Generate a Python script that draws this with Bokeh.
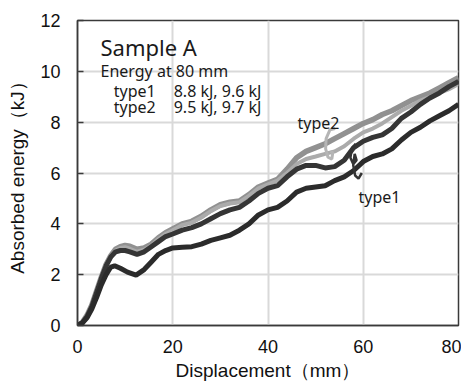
from bokeh.plotting import figure
from bokeh.models import Label, FixedTicker
from bokeh.embed import file_html
from bokeh.resources import INLINE

# ---- data ----
x_t1a = [0, 1, 2, 3, 4, 5, 6, 7, 7.8, 9, 10.5, 12.3, 14, 15.5, 17, 18.5, 20, 22, 24, 26, 28, 30, 32, 34, 36, 38,
         40, 42, 44, 46, 48, 50, 52, 54, 56, 58, 60, 62, 64, 66, 68, 70, 72, 74, 76, 78, 80]
y_t1a = [0, 0.1, 0.3, 0.65, 1.1, 1.6, 2.0, 2.3, 2.35, 2.25, 2.1, 1.98, 2.2, 2.5, 2.8, 2.95, 3.05, 3.08, 3.1, 3.2,
         3.35, 3.45, 3.55, 3.75, 4.0, 4.35, 4.55, 4.65, 4.9, 5.25, 5.4, 5.45, 5.5, 5.7, 5.85, 6.1, 6.45, 6.65, 6.75,
         6.95, 7.3, 7.6, 7.8, 8.05, 8.25, 8.45, 8.7]

x_std = [0, 1, 2, 3, 4, 5, 6, 7, 8, 9, 10, 11, 12.5, 14, 15.5, 17, 18.5, 20, 22, 24, 26, 28, 30, 32, 34, 36, 38,
         40, 42, 44, 46, 48, 50, 52, 54, 56, 58, 60, 62, 64, 66, 68, 70, 72, 74, 76, 78, 80]
y_t1b = [0, 0.1, 0.35, 0.75, 1.3, 1.85, 2.35, 2.7, 2.9, 2.95, 2.95, 2.9, 2.8, 2.9, 3.1, 3.3, 3.5, 3.6, 3.75, 3.85,
         4.0, 4.2, 4.4, 4.55, 4.65, 4.9, 5.2, 5.4, 5.5, 5.85, 6.15, 6.3, 6.3, 6.2, 6.25, 6.5, 7.0, 7.25, 7.4, 7.5,
         7.75, 8.15, 8.4, 8.7, 8.95, 9.15, 9.4, 9.6]
y_t2a = [0, 0.12, 0.4, 0.8, 1.35, 1.9, 2.4, 2.72, 2.95, 3.05, 3.08, 3.02, 2.9, 2.98, 3.15, 3.4, 3.6, 3.75, 3.95,
         4.05, 4.25, 4.5, 4.7, 4.8, 4.85, 5.1, 5.4, 5.55, 5.7, 6.0, 6.35, 6.55, 6.65, 6.75, 6.85, 7.05, 7.35, 7.6,
         7.75, 7.95, 8.2, 8.45, 8.65, 8.85, 9.0, 9.15, 9.3, 9.5]
y_t2b = [0, 0.12, 0.4, 0.8, 1.35, 1.9, 2.4, 2.75, 3.0, 3.1, 3.15, 3.12, 3.0, 3.05, 3.2, 3.45, 3.65, 3.8, 4.0, 4.1,
         4.3, 4.55, 4.75, 4.85, 4.9, 5.15, 5.45, 5.6, 5.75, 6.15, 6.6, 6.85, 7.0, 7.15, 7.35, 7.55, 7.75, 7.95,
         8.1, 8.3, 8.45, 8.65, 8.85, 9.0, 9.15, 9.35, 9.55, 9.75]

# leader hooks next to the "type2" / "type1" labels
hook2_x = [54.1, 53.0, 52.2, 52.1, 52.6, 53.4, 53.6, 53.1]
hook2_y = [7.75, 7.7, 7.35, 6.95, 6.62, 6.55, 6.8, 6.85]
hook1_x = [58.4, 57.6, 57.3, 57.9, 58.6, 58.2, 57.9, 58.3, 59.0, 59.7]
hook1_y = [7.15, 6.95, 6.6, 6.35, 6.5, 6.75, 6.3, 5.9, 5.78, 6.0]

x_ticks = [0, 20, 40, 60, 80]
y_ticks = [0, 2, 4, 6, 8, 10, 12]

p = figure(width=461, height=387, x_range=(0, 80), y_range=(0, 12),
           output_backend="svg", toolbar_location=None,
           min_border_left=77, min_border_right=3, min_border_top=20, min_border_bottom=62)
p.outline_line_color = "#3a3a3a"
p.outline_line_width = 1.5
p.background_fill_color = "white"
p.border_fill_color = "white"

p.xaxis.ticker = FixedTicker(ticks=x_ticks)
p.yaxis.ticker = FixedTicker(ticks=y_ticks)
for ax in (p.xaxis[0], p.yaxis[0]):
    ax.axis_line_color = "#3a3a3a"
    ax.axis_line_width = 1.5
    ax.minor_tick_line_color = None
    ax.major_label_text_font = "Liberation Sans"
    ax.major_label_text_font_size = "18px"
    ax.major_label_text_color = "#111111"
    ax.axis_label_text_font = "Liberation Sans"
    ax.axis_label_text_font_size = "19px"
    ax.axis_label_text_font_style = "normal"
    ax.axis_label_text_color = "#111111"
    ax.major_tick_line_color = "#3a3a3a"
    ax.major_tick_line_width = 1.5

p.xaxis.major_tick_in = 0
p.xaxis.major_tick_out = 0
p.yaxis.major_tick_in = 6
p.yaxis.major_tick_out = 0
p.xaxis.major_label_standoff = 14
p.yaxis.major_label_standoff = 17
p.xaxis.axis_label = "Displacement（mm）"
p.yaxis.axis_label = "Absorbed energy（kJ）"
p.xaxis.axis_label_standoff = 4
p.yaxis.axis_label_standoff = 9

p.grid.grid_line_color = "#d9d9d9"
p.grid.grid_line_width = 2

# curves
p.line(x_std, y_t2b, line_color="#919191", line_width=5.5)
p.line(x_std, y_t2a, line_color="#ababab", line_width=4)
p.line(x_std, y_t1b, line_color="#353535", line_width=5)
p.line(x_t1a, y_t1a, line_color="#2b2b2b", line_width=5)

p.line(hook2_x, hook2_y, line_color="#b5b5b5", line_width=3)
p.line(hook1_x, hook1_y, line_color="#333333", line_width=2.5)

def lab(x, y, t, size, font="Noto Sans"):
    p.add_layout(Label(x=x, y=y, text=t, text_font=font, text_font_size=size,
                       text_color="#1a1a1a", text_baseline="alphabetic", text_align="left"))

lab(4.83, 10.95, "Sample A", "22px")
lab(4.83, 10.0, "Energy  at 80 mm", "16px")
lab(7.6, 9.22, "type1", "16px")
lab(20.2, 9.22, "8.8  kJ, 9.6 kJ", "16px")
lab(7.6, 8.59, "type2", "16px")
lab(20.2, 8.59, "9.5 kJ, 9.7 kJ", "16px")
lab(46.2, 7.95, "type2", "16px")
lab(59.0, 5.05, "type1", "16px")

open("out.html", "w").write(file_html(p, INLINE))
